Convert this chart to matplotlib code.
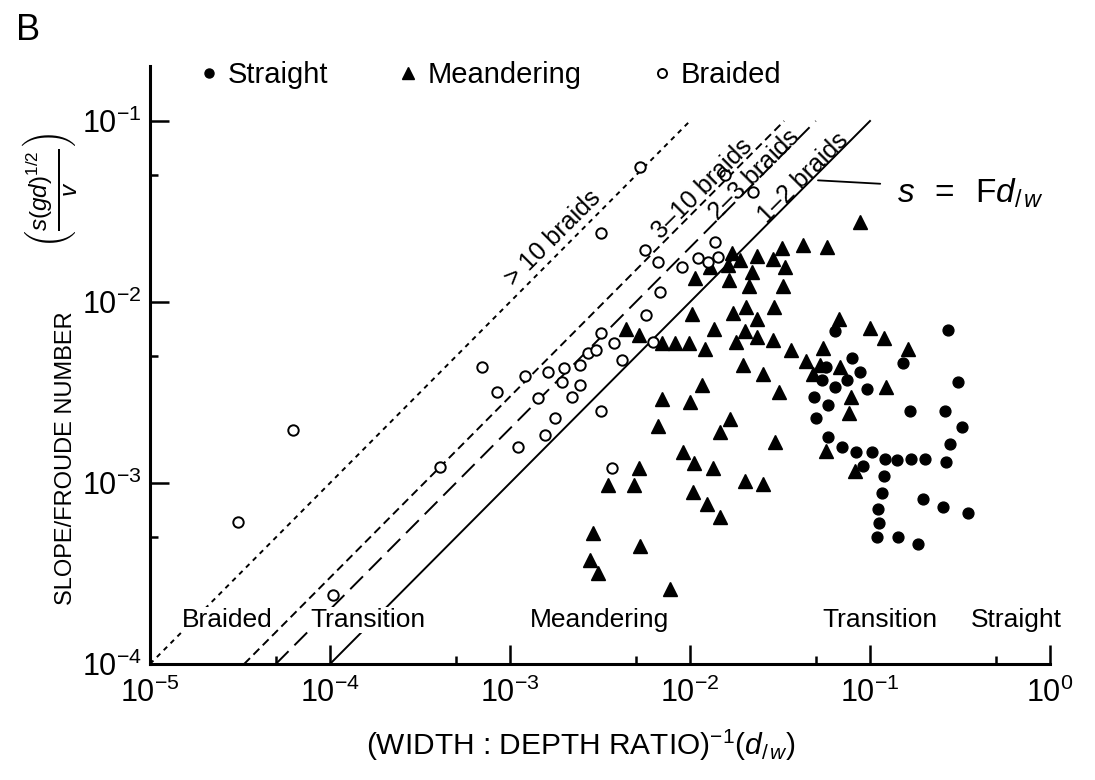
import matplotlib
matplotlib.use('Agg')
import matplotlib.pyplot as plt
from matplotlib.lines import Line2D
from matplotlib.ticker import FixedLocator, NullFormatter, FuncFormatter
import numpy as np

plt.rcParams['font.family'] = ['Liberation Sans', 'DejaVu Sans']
plt.rcParams['mathtext.fontset'] = 'custom'
plt.rcParams['mathtext.rm'] = 'Liberation Sans'
plt.rcParams['mathtext.it'] = 'Liberation Sans:italic'
plt.rcParams['mathtext.bf'] = 'Liberation Sans:bold'
plt.rcParams['lines.scale_dashes'] = False

# ---------------- data ----------------
straight_x = [0.064, 0.271, 0.0794, 0.152, 0.088, 0.31, 0.057, 0.054, 0.064, 0.0743,
              0.096, 0.0486, 0.0586, 0.050, 0.167, 0.261, 0.324, 0.0586, 0.278, 0.0698,
              0.0836, 0.102, 0.121, 0.141, 0.170, 0.203, 0.266, 0.0914, 0.120, 0.117,
              0.196, 0.254, 0.349, 0.111, 0.112, 0.109, 0.143, 0.184]
straight_y = [0.0069, 0.0070, 0.0049, 0.0046, 0.0041, 0.0036, 0.0044, 0.0037, 0.0034, 0.0037,
              0.0033, 0.0030, 0.0027, 0.0023, 0.0025, 0.0025, 0.00205, 0.0018, 0.00164, 0.00159,
              0.00149, 0.00148, 0.00135, 0.00134, 0.00135, 0.00135, 0.00131, 0.00124, 0.00109, 0.00088,
              0.00082, 0.00074, 0.00068, 0.00072, 0.00060, 0.00050, 0.00050, 0.00046]

meander_x = [0.0171, 0.0190, 0.0235, 0.0323, 0.0289, 0.0426, 0.0577, 0.0163, 0.0129, 0.0107,
             0.0164, 0.0220, 0.0213, 0.0337, 0.0329, 0.0103, 0.0173, 0.0206, 0.0237, 0.0293,
             0.0136, 0.0203, 0.0181, 0.0235, 0.0289, 0.0364, 0.0673, 0.0044, 0.0052, 0.00695,
             0.0083, 0.0099, 0.0121, 0.0198, 0.0256, 0.0441, 0.0545, 0.0527, 0.0116, 0.0312,
             0.00695, 0.0100, 0.0066, 0.0166, 0.0147, 0.0297, 0.0091, 0.0105, 0.0135, 0.0052,
             0.0035, 0.0049, 0.0202, 0.0256, 0.0104, 0.0125, 0.0147, 0.0029, 0.0053, 0.0028,
             0.0031, 0.0077, 0.100, 0.120, 0.163, 0.068, 0.0482, 0.0783, 0.123, 0.0769,
             0.0566, 0.083, 0.0885]
meander_y = [0.0186, 0.0171, 0.0179, 0.0198, 0.0173, 0.0207, 0.0202, 0.0160, 0.0156, 0.0135,
             0.0132, 0.0146, 0.0122, 0.0156, 0.0122, 0.0086, 0.0087, 0.0094, 0.0081, 0.0094,
             0.0071, 0.0069, 0.0060, 0.0064, 0.0062, 0.0054, 0.0081, 0.0071, 0.0066, 0.0059,
             0.0059, 0.0059, 0.0055, 0.0045, 0.0040, 0.0047, 0.0056, 0.0045, 0.0035, 0.0032,
             0.0029, 0.0028, 0.00207, 0.00226, 0.00192, 0.00169, 0.00148, 0.00129, 0.00121, 0.00121,
             0.000975, 0.000975, 0.00103, 0.00099, 0.000895, 0.00077, 0.00065, 0.00053, 0.00045, 0.000376,
             0.000317, 0.00026, 0.0072, 0.0063, 0.0055, 0.0044, 0.0040, 0.0030, 0.0034, 0.00243,
             0.0015, 0.00116, 0.0277]

braided_x = [3.1e-5, 6.2e-5, 4.1e-4, 1.04e-4, 7.0e-4, 8.5e-4, 1.21e-3, 1.63e-3, 1.43e-3, 1.95e-3,
             2.0e-3, 2.45e-3, 2.7e-3, 2.2e-3, 2.45e-3, 1.78e-3, 1.11e-3, 1.56e-3, 3.0e-3, 3.2e-3,
             3.2e-3, 3.8e-3, 4.2e-3, 3.7e-3, 5.7e-3, 6.2e-3, 6.8e-3, 6.6e-3, 5.6e-3, 3.2e-3,
             5.3e-3, 1.56e-2, 2.24e-2, 1.38e-2, 9.0e-3, 1.11e-2, 1.26e-2, 1.43e-2]
braided_y = [6.1e-4, 1.96e-3, 1.22e-3, 2.4e-4, 4.4e-3, 3.2e-3, 3.9e-3, 4.1e-3, 2.95e-3, 3.6e-3,
             4.3e-3, 4.5e-3, 5.2e-3, 3.0e-3, 3.5e-3, 2.3e-3, 1.58e-3, 1.84e-3, 5.4e-3, 2.5e-3,
             6.7e-3, 5.9e-3, 4.8e-3, 1.21e-3, 8.5e-3, 6.0e-3, 1.13e-2, 1.66e-2, 1.94e-2, 2.4e-2,
             5.6e-2, 5.0e-2, 4.06e-2, 2.14e-2, 1.56e-2, 1.75e-2, 1.66e-2, 1.77e-2]

braid_factors = [10, 3, 2, 1]                 # s = F * (d/w)
braid_labels = ['> 10 braids', '3\u201310 braids', '2\u20133 braids', '1\u20132 braids']
line_y_range = [1e-4, 1e-1]

region_labels = ['Braided', 'Transition', 'Meandering', 'Transition', 'Straight']
x_ticks = [1e-5, 1e-4, 1e-3, 1e-2, 1e-1, 1e0]
y_ticks = [1e-4, 1e-3, 1e-2, 1e-1]

# ---------------- layout / style ----------------
braid_styles = [(0, (3.5, 3.5)), (0, (6, 3.5)), (0, (13, 6)), '-']
braid_label_pos = [(1.73e-3, 0.0226), (0.01166, 0.042), (0.0227, 0.0503), (0.0425, 0.0484)]
region_pos_x = [2.7e-5, 1.63e-4, 3.16e-3, 0.114, 0.647]
region_pos_y = 1.75e-4

fig = plt.figure(figsize=(10.95, 7.8), dpi=100)
ax = fig.add_axes([150/1095, 1-664/780, 900/1095, (664-66.5)/780])
ax.set_xscale('log')
ax.set_yscale('log')
ax.set_xlim(1e-5, 1)
ax.set_ylim(1e-4, 0.2)

for F, ls in zip(braid_factors, braid_styles):
    yy = np.array(line_y_range)
    ax.plot(yy / F, yy, color='black', lw=1.4, linestyle=ls, zorder=2)

ax.plot(straight_x, straight_y, linestyle='none', marker='o', ms=7.8,
        mfc='black', mec='black', zorder=4)
ax.plot(meander_x, meander_y, linestyle='none', marker='^', ms=9.5,
        mfc='black', mec='black', zorder=4)
ax.plot(braided_x, braided_y, linestyle='none', marker='o', ms=7.5,
        mfc='white', mec='black', mew=1.4, zorder=4)

for (lx, ly), lab in zip(braid_label_pos, braid_labels):
    ax.text(lx, ly, lab, rotation=45, rotation_mode='anchor', ha='center', va='center',
            fontsize=18, zorder=5)

for xp, lab in zip(region_pos_x, region_labels):
    ax.text(xp, region_pos_y, lab, ha='center', va='center', fontsize=19, zorder=5,
            bbox=dict(facecolor='white', edgecolor='none', pad=0.5))

ax.annotate(r'$s\;\;=\;\;\mathregular{F}d_{/\,w}$', xy=(0.0514, 0.047), xytext=(0.141, 0.040),
            ha='left', va='center', fontsize=24,
            arrowprops=dict(arrowstyle='-', lw=1.3, color='black', relpos=(0, 0.75),
                            shrinkA=10, shrinkB=0))

# axes styling
for side in ['top', 'right']:
    ax.spines[side].set_visible(False)
for side in ['left', 'bottom']:
    ax.spines[side].set_linewidth(2.2)

fmt = FuncFormatter(lambda v, p: r'$\mathregular{10^{%d}}$' % int(round(np.log10(v))))
ax.xaxis.set_major_locator(FixedLocator(x_ticks))
ax.yaxis.set_major_locator(FixedLocator(y_ticks))
ax.xaxis.set_minor_locator(FixedLocator([5 * t for t in x_ticks[:-1]]))
ax.yaxis.set_minor_locator(FixedLocator([5 * t for t in y_ticks]))
ax.xaxis.set_major_formatter(fmt)
ax.yaxis.set_major_formatter(fmt)
ax.xaxis.set_minor_formatter(NullFormatter())
ax.yaxis.set_minor_formatter(NullFormatter())
ax.tick_params(which='major', direction='in', length=14, width=1.8, labelsize=22)
ax.tick_params(which='minor', direction='in', length=6, width=1.8)
ax.tick_params(axis='x', which='major', pad=10)
ax.tick_params(axis='y', which='major', pad=6)

# legend
handles = [Line2D([], [], linestyle='none', marker='o', ms=6.5, mfc='black', mec='black'),
           Line2D([], [], linestyle='none', marker='^', ms=8.5, mfc='black', mec='black'),
           Line2D([], [], linestyle='none', marker='o', ms=6.5, mfc='white', mec='black', mew=1.4)]
ax.legend(handles, ['Straight', 'Meandering', 'Braided'], loc='center left',
          bbox_to_anchor=(0.0556, 0.986), ncol=3, frameon=False, fontsize=21,
          handlelength=0.6, handletextpad=0.35, columnspacing=2.45,
          borderpad=0, borderaxespad=0)

# axis labels
fig.text(66/1095, 1-458/780, 'SLOPE/FROUDE NUMBER', rotation=90, ha='center', va='center',
         fontsize=17)
fig.text(50/1095, 1-190/780, r'$\left(\frac{s(gd)^{1/2}}{v}\right)$', rotation=90,
         ha='center', va='center', fontsize=25)
fig.text(581/1095, 1-745/780, r'(WIDTH : DEPTH RATIO)$^{\mathregular{-1}}$($d_{/\,w}$)',
         ha='center', va='center', fontsize=21.5)
fig.text(16/1095, 1-40/780, 'B', fontsize=26, va='baseline', ha='left')

fig.savefig('out.png', dpi=100)
